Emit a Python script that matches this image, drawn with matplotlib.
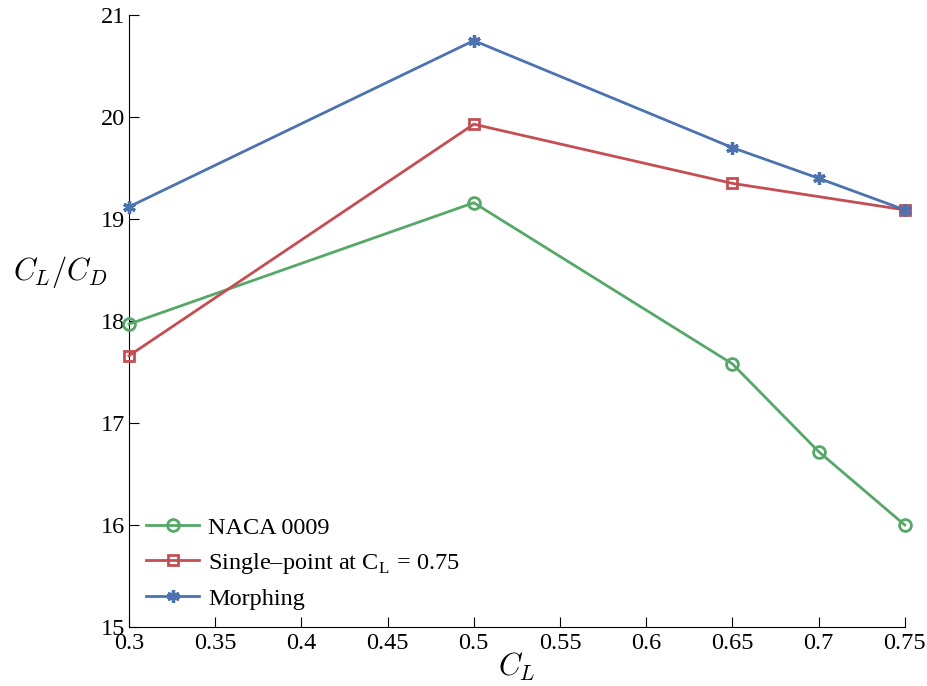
import matplotlib
matplotlib.use("Agg")
import matplotlib.pyplot as plt

plt.rcParams['font.family'] = ['Liberation Serif', 'DejaVu Serif']
plt.rcParams['mathtext.fontset'] = 'cm'

# lift coefficient values
cl_naca = [0.3, 0.5, 0.65, 0.7, 0.75]
cl_single = [0.3, 0.5, 0.65, 0.75]
cl_morph = [0.3, 0.5, 0.65, 0.7, 0.75]

# lift-to-drag ratios
ld_naca = [17.97, 19.16, 17.58, 16.72, 16.0]
ld_single = [17.66, 19.93, 19.35, 19.09]
ld_morph = [19.12, 20.75, 19.70, 19.40, 19.09]

xticks = [0.3, 0.35, 0.4, 0.45, 0.5, 0.55, 0.6, 0.65, 0.7, 0.75]
xticklabels = ['0.3', '0.35', '0.4', '0.45', '0.5', '0.55', '0.6', '0.65', '0.7', '0.75']
yticks = [15, 16, 17, 18, 19, 20, 21]

green = '#55a868'
red = '#c44e52'
blue = '#4c72b0'

fig = plt.figure(figsize=(9.28, 6.86), dpi=100)
ax = fig.add_axes([0.139, 0.086, 0.836, 0.892])

ax.plot(cl_naca, ld_naca, '-o', color=green, lw=2.0, ms=8.5,
        mfc='none', mew=2.0, label='NACA 0009', clip_on=False, zorder=3)
ax.plot(cl_single, ld_single, '-s', color=red, lw=2.0, ms=7.5,
        mfc='none', mew=2.0, label='Single\u2013point at C$_\\mathregular{L}$ = 0.75',
        clip_on=False, zorder=3)
ax.plot(cl_morph, ld_morph, '-', color=blue, lw=2.0, marker=(6, 2, 0),
        ms=9, mew=2.4, label='Morphing', clip_on=False, zorder=3)

ax.set_xlim(0.3, 0.75)
ax.set_ylim(15, 21)
ax.set_xticks(xticks)
ax.set_xticklabels(xticklabels)
ax.set_yticks(yticks)
ax.tick_params(direction='in', length=7, width=0.8, labelsize=17.5)
ax.tick_params(axis='x', pad=4)
ax.tick_params(axis='y', pad=3)
for s in ['top', 'right']:
    ax.spines[s].set_visible(False)

ax.set_xlabel(r'$C_L$', fontsize=22, labelpad=-2)
ax.set_ylabel(r'$C_L/C_D$', fontsize=22, rotation=0)
ax.yaxis.set_label_coords(-0.089, 0.55)

ax.legend(loc='lower left', frameon=False, fontsize=17.5, handlelength=2.2,
          handletextpad=0.35, labelspacing=0.5, borderaxespad=0.3,
          bbox_to_anchor=(0.0, 0.0))

fig.savefig('out.png', dpi=100)
